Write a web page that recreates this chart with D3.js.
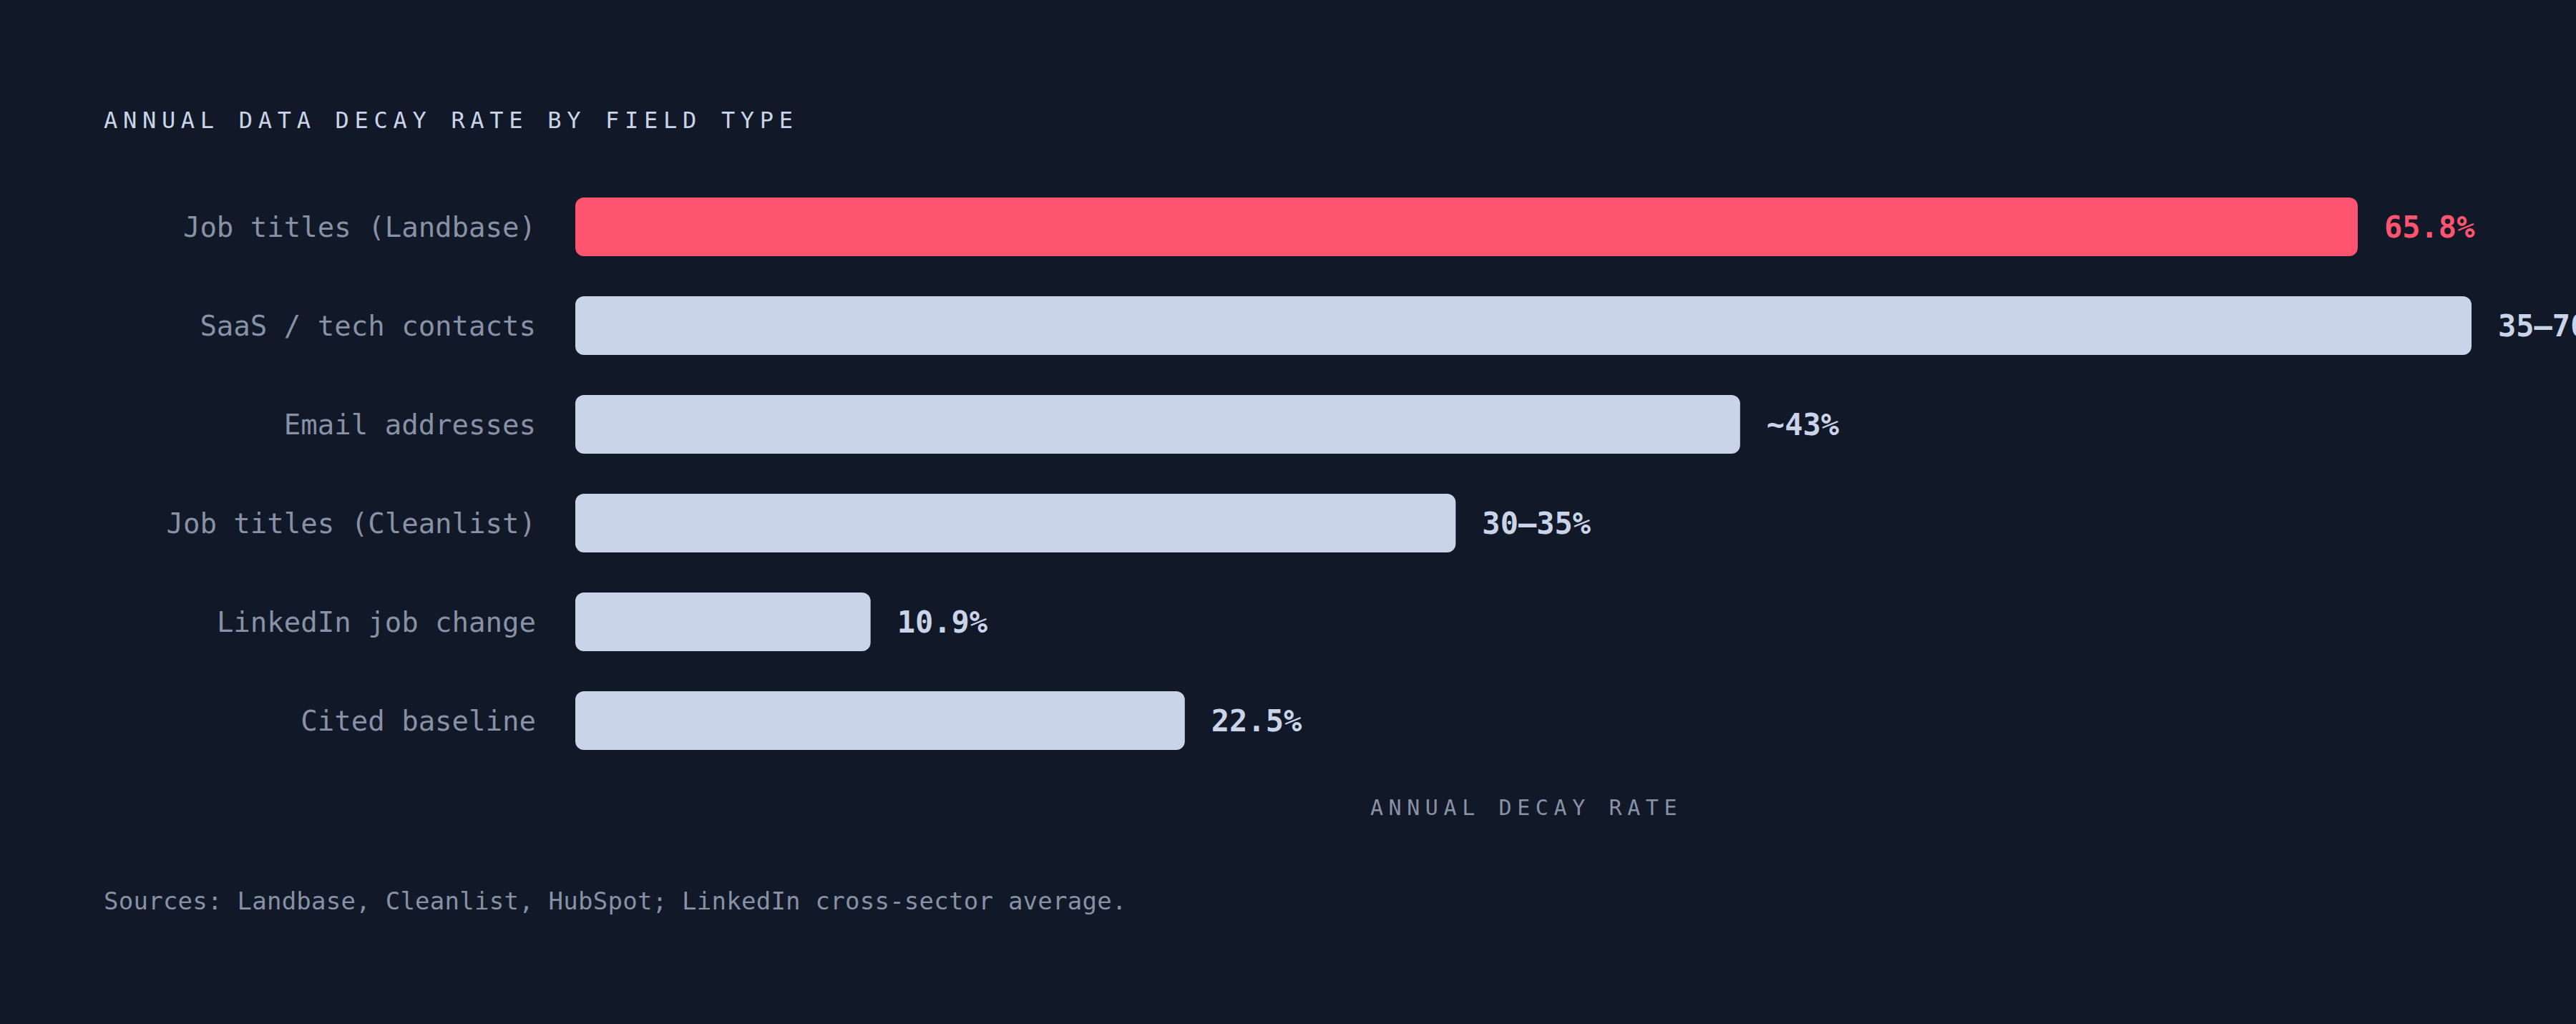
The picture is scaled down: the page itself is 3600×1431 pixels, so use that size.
<!DOCTYPE html>
<html>
<head>
<meta charset="utf-8">
<script src="https://cdn.jsdelivr.net/npm/d3@7"></script>
<style>
    html, body { margin: 0; padding: 0; background: #111827; overflow: hidden; }
    svg { display: block; }
    text { font-family: "DejaVu Sans Mono", "Liberation Mono", monospace; }
</style>
</head>
<body>
<div id="chart"></div>
<script>
// data //
// ---- //
var categories = ["Job titles (Landbase)", "SaaS / tech contacts", "Email addresses",
                  "Job titles (Cleanlist)", "LinkedIn job change", "Cited baseline"];
var decayValues = [65.8, 70, 43, 32.5, 10.9, 22.5];
var valueLabels = ["65.8%", "35\u201370%", "~43%", "30\u201335%", "10.9%", "22.5%"];
var highlight = [true, false, false, false, false, false];

var chartTitle = "ANNUAL DATA DECAY RATE BY FIELD TYPE",
    axisTitle = "ANNUAL DECAY RATE",
    sourceNote = "Sources: Landbase, Cleanlist, HubSpot; LinkedIn cross-sector average.";

// setup //
// ----- //
var width = 3600, height = 1431,
    red = "#ff5470", pale = "#c9d4e8", muted = "#8891a5";

var svg = d3.select("#chart").append("svg")
    .attr("width", width)
    .attr("height", height);

svg.append("rect").attr("width", width).attr("height", height).attr("fill", "#111827");

var x = d3.scaleLinear().domain([0, 70]).range([804, 3454]);
var y = d3.scaleBand().domain(categories).range([248, 1076])
    .paddingInner(0.406).paddingOuter(0.203);

var rows = categories.map(function (c, i) {
    return {cat: c, value: decayValues[i], label: valueLabels[i], hot: highlight[i]};
});

// title
svg.append("text")
    .attr("x", 145).attr("y", 179)
    .attr("font-size", 32)
    .attr("letter-spacing", "7.7px")
    .attr("fill", pale)
    .text(chartTitle);

// category axis
var yAxis = svg.append("g")
    .attr("transform", "translate(749,0)")
    .call(d3.axisLeft(y).tickSize(0).tickPadding(0));
yAxis.select(".domain").remove();
yAxis.selectAll("text")
    .attr("font-family", "DejaVu Sans Mono, monospace")
    .attr("font-size", 39)
    .attr("fill", muted)
    .attr("dy", "0.35em");

// bars
svg.selectAll("rect.bar")
    .data(rows)
    .enter()
    .append("rect")
    .attr("class", "bar")
    .attr("x", x(0))
    .attr("y", function (d) { return y(d.cat); })
    .attr("width", function (d) { return x(d.value) - x(0); })
    .attr("height", y.bandwidth())
    .attr("rx", 12)
    .attr("fill", function (d) { return d.hot ? red : pale; });

// value labels
svg.selectAll("text.val")
    .data(rows)
    .enter()
    .append("text")
    .attr("class", "val")
    .attr("x", function (d) { return x(d.value) + 37; })
    .attr("y", function (d) { return y(d.cat) + y.bandwidth() / 2; })
    .attr("dy", "0.36em")
    .attr("font-size", 42)
    .attr("font-weight", "bold")
    .attr("fill", function (d) { return d.hot ? red : pale; })
    .text(function (d) { return d.label; });

// axis title
svg.append("text")
    .attr("x", (x.range()[0] + x.range()[1]) / 2 + 4)
    .attr("y", 1139)
    .attr("text-anchor", "middle")
    .attr("font-size", 30)
    .attr("letter-spacing", "7.6px")
    .attr("fill", muted)
    .text(axisTitle);

// source note
svg.append("text")
    .attr("x", 145).attr("y", 1271)
    .attr("font-size", 34)
    .attr("letter-spacing", "0.25px")
    .attr("fill", muted)
    .text(sourceNote);
</script>
</body>
</html>
